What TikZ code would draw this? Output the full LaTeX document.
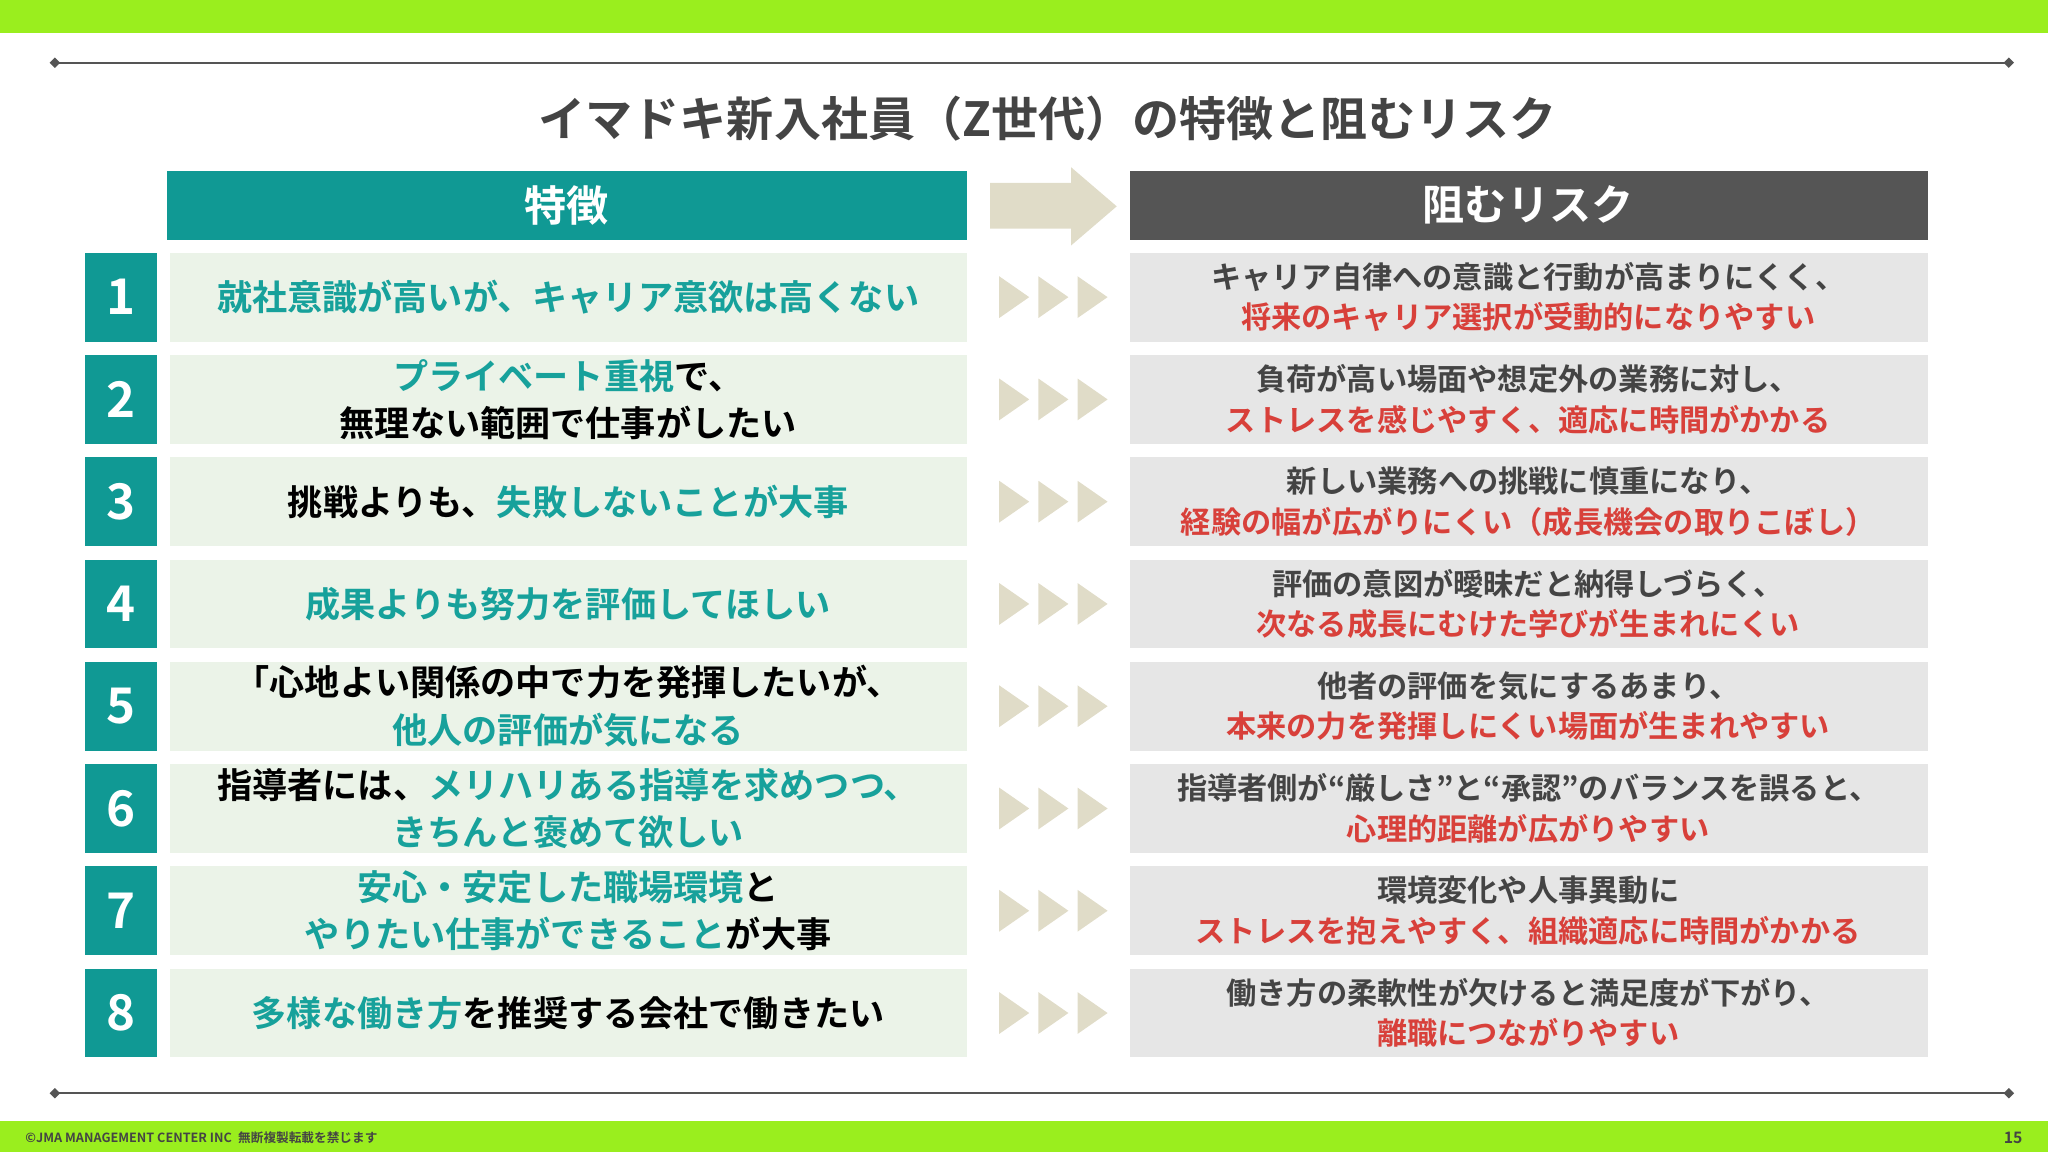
\documentclass[tikz,border=0pt]{standalone}
\usepackage{fontspec}
\setmainfont{Noto Sans CJK JP Bold}
\usetikzlibrary{positioning}
\definecolor{colBar}{HTML}{9AEE1E}
\definecolor{colTeal}{HTML}{109994}
\definecolor{colTxtTeal}{HTML}{17A19B}
\definecolor{colHead}{HTML}{555555}
\definecolor{colLeft}{HTML}{EBF3E8}
\definecolor{colRight}{HTML}{E6E6E6}
\definecolor{colArrow}{HTML}{E0DCC8}
\definecolor{colRisk}{HTML}{D8403A}
\definecolor{colGray}{HTML}{444444}
\newcommand{\tl}[1]{\textcolor{colTxtTeal}{#1}}
\newcommand{\rk}[1]{\textcolor{colRisk}{#1}}
\tikzset{
  feat/.style={font=\fontsize{10}{13.5}\selectfont, align=center, text=black},
  risk/.style={font=\fontsize{8.6}{11.5}\selectfont, align=center, text=colGray},
  num/.style={font=\fontsize{14}{14}\selectfont, text=white},
}
\begin{document}
\begin{tikzpicture}[x=0.013061cm, y=-0.013061cm]
  \useasboundingbox (0,0) rectangle (1568,882);

  % bars and rules
  \fill[colBar] (0,0) rectangle (1568,25);
  \fill[colBar] (0,858) rectangle (1568,882);
  \foreach \yy in {48,837} {
    \draw[colHead, line width=0.6pt] (42,\yy) -- (1538,\yy);
    \fill[colHead] (38,\yy) -- (42,\yy-4) -- (46,\yy) -- (42,\yy+4) -- cycle;
    \fill[colHead] (1534,\yy) -- (1538,\yy-4) -- (1542,\yy) -- (1538,\yy+4) -- cycle;
  }

  % title
  \node[font=\fontsize{13.4}{14}\selectfont, text=colGray] (title) at (802,91)
    {イマドキ新入社員（Z世代）の特徴と阻むリスク};

  % headers
  \fill[colTeal] (128,131) rectangle (740,184);
  \node[font=\fontsize{12}{12}\selectfont, text=white] (hfeat) at (434,157) {特徴};
  \fill[colHead] (865,131) rectangle (1476,184);
  \node[font=\fontsize{12}{12}\selectfont, text=white] (hrisk) at (1170,157) {阻むリスク};
  \fill[colArrow] (758,140) -- (820,140) -- (820,128) -- (855,158)
    -- (820,188) -- (820,175) -- (758,175) -- cycle;

  % rows
  \foreach \i in {1,...,8} {
    \pgfmathsetmacro{\yc}{227.5+(\i-1)*78.3}
    \fill[colTeal] (65,\yc-34) rectangle (120,\yc+34);
    \node[num] (n\i) at (92.5,\yc) {\i};
    \fill[colLeft] (130,\yc-34) rectangle (740,\yc+34);
    \fill[colRight] (865,\yc-34) rectangle (1476,\yc+34);
    \foreach \xx in {765,795,825}
      \fill[colArrow] (\xx,\yc-16) -- (\xx+23,\yc) -- (\xx,\yc+16) -- cycle;
  }

  % feature texts
  \node[feat] (f1) at (435,227.5) {\tl{就社意識が高いが、キャリア意欲は高くない}};
  \node[feat] (f2) at (435,305.8) {\tl{プライベート重視}で、\\無理ない範囲で仕事がしたい};
  \node[feat] (f3) at (435,384.1) {挑戦よりも、\tl{失敗しないことが大事}};
  \node[feat] (f4) at (435,462.4) {\tl{成果よりも努力を評価してほしい}};
  \node[feat] (f5) at (435,540.7) {「心地よい関係の中で力を発揮したいが、\\\tl{他人の評価が気になる}};
  \node[feat] (f6) at (435,619.0) {指導者には、\tl{メリハリある指導を求めつつ、}\\\tl{きちんと褒めて欲しい}};
  \node[feat] (f7) at (435,697.3) {\tl{安心・安定した職場環境}と\\\tl{やりたい仕事ができること}が大事};
  \node[feat] (f8) at (435,775.6) {\tl{多様な働き方}を推奨する会社で働きたい};

  % risk texts
  \node[risk] (r1) at (1170,227.5) {キャリア自律への意識と行動が高まりにくく、\\\rk{将来のキャリア選択が受動的になりやすい}};
  \node[risk] (r2) at (1170,305.8) {負荷が高い場面や想定外の業務に対し、\\\rk{ストレスを感じやすく、適応に時間がかかる}};
  \node[risk] (r3) at (1170,384.1) {新しい業務への挑戦に慎重になり、\\\rk{経験の幅が広がりにくい（成長機会の取りこぼし）}};
  \node[risk] (r4) at (1170,462.4) {評価の意図が曖昧だと納得しづらく、\\\rk{次なる成長にむけた学びが生まれにくい}};
  \node[risk] (r5) at (1170,540.7) {他者の評価を気にするあまり、\\\rk{本来の力を発揮しにくい場面が生まれやすい}};
  \node[risk] (r6) at (1170,619.0) {指導者側が“厳しさ”と“承認”のバランスを誤ると、\\\rk{心理的距離が広がりやすい}};
  \node[risk] (r7) at (1170,697.3) {環境変化や人事異動に\\\rk{ストレスを抱えやすく、組織適応に時間がかかる}};
  \node[risk] (r8) at (1170,775.6) {働き方の柔軟性が欠けると満足度が下がり、\\\rk{離職につながりやすい}};

  % footer
  \node[font=\fontsize{3.6}{4}\selectfont, text=colGray, anchor=west] (copy) at (10,871)
    {©JMA MANAGEMENT CENTER INC\enspace 無断複製転載を禁じます};
  \node[font=\fontsize{4.5}{5}\selectfont, text=colGray, anchor=east] (page) at (1558,871) {15};
\end{tikzpicture}
\end{document}
